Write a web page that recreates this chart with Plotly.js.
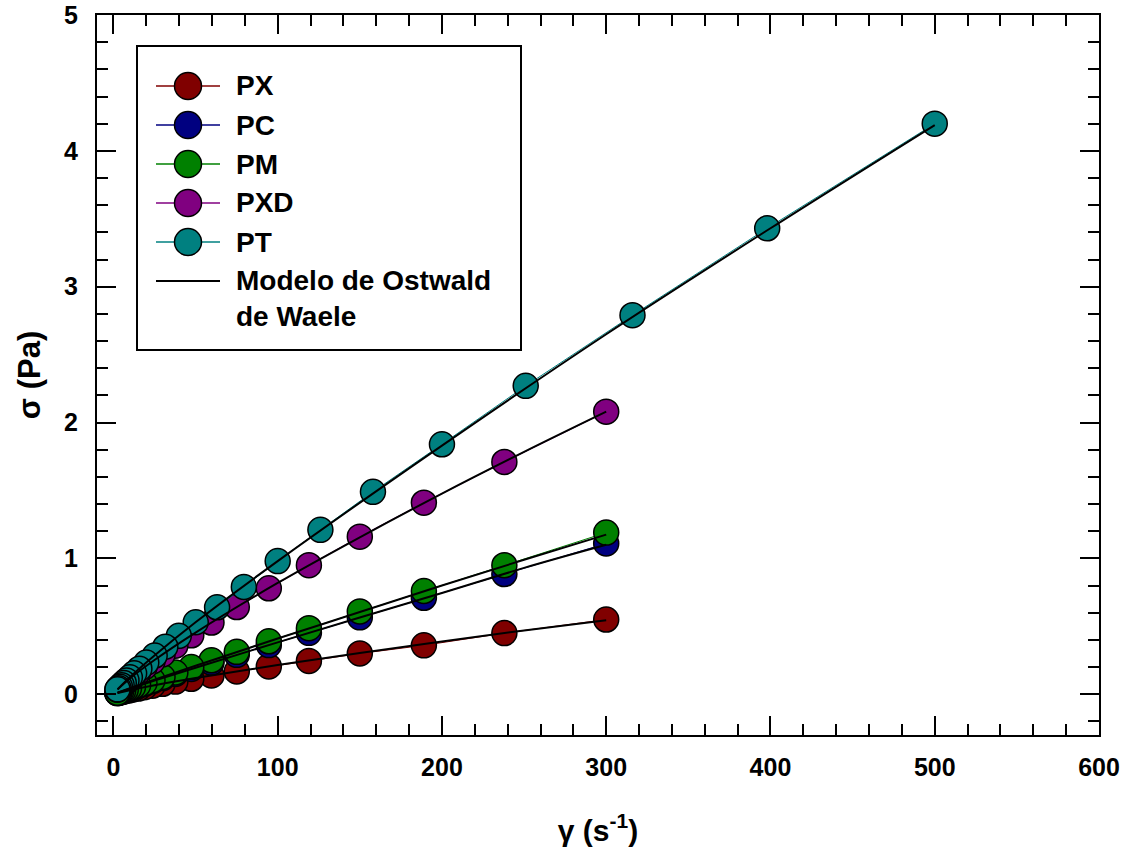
<!DOCTYPE html>
<html><head><meta charset="utf-8">
<script src="https://cdn.plot.ly/plotly-3.0.1.min.js"></script>
<style>html,body{margin:0;padding:0;background:#fff}</style>
</head><body>
<div id="chart" style="width:1129px;height:855px"></div>
<script>
// ---- data ----
const seriesNames  = ['PX', 'PC', 'PM', 'PXD', 'PT'];
const seriesColors = ['#800000', '#000080', '#008000', '#800080', '#008080'];

// shear rate (1/s) for PX, PC, PM, PXD
const shear300 = [300, 238, 189, 150, 119, 94.6, 75.1, 59.7, 47.4, 37.7, 29.9, 23.8, 18.9, 15.0, 11.9, 9.46, 7.51, 5.97, 4.74, 3.77, 2.99, 2.38];
// shear rate (1/s) for PT
const shearPT = [500, 398, 316, 251, 200, 158, 126, 100, 79.4, 63.1, 50.1, 39.8, 31.6, 25.1, 20.0, 15.8, 12.6, 10.0, 7.94, 6.31, 5.01, 3.98, 3.16, 2.51];

// shear stress (Pa)
const sigmaPX  = [0.55, 0.45, 0.36, 0.30, 0.245, 0.205, 0.168, 0.138, 0.114, 0.093, 0.077, 0.063, 0.052, 0.042, 0.035, 0.029, 0.024, 0.019, 0.016, 0.013, 0.010, 0.0085];
const sigmaPC  = [1.11, 0.885, 0.71, 0.566, 0.452, 0.362, 0.29, 0.233, 0.186, 0.149, 0.119, 0.096, 0.076, 0.061, 0.049, 0.039, 0.031, 0.025, 0.020, 0.016, 0.013, 0.010];
const sigmaPM  = [1.19, 0.95, 0.76, 0.61, 0.486, 0.39, 0.312, 0.25, 0.20, 0.16, 0.128, 0.103, 0.082, 0.066, 0.053, 0.042, 0.034, 0.027, 0.022, 0.017, 0.014, 0.011];
const sigmaPXD = [2.08, 1.71, 1.41, 1.16, 0.95, 0.78, 0.642, 0.528, 0.434, 0.357, 0.293, 0.242, 0.199, 0.163, 0.134, 0.110, 0.091, 0.075, 0.061, 0.050, 0.041, 0.034];
const sigmaPT  = [4.20, 3.43, 2.79, 2.27, 1.84, 1.49, 1.21, 0.98, 0.79, 0.64, 0.53, 0.43, 0.35, 0.285, 0.233, 0.188, 0.154, 0.125, 0.102, 0.083, 0.067, 0.055, 0.044, 0.036];

// Ostwald de Waele model curves
const modelShear300 = [2.5, 10, 25, 50, 100, 150, 200, 250, 300];
const modelShearPT  = [2.5, 10, 25, 50, 100, 200, 300, 400, 500];
const modelPX  = [0.0092, 0.030, 0.066, 0.119, 0.215, 0.304, 0.389, 0.470, 0.545];
const modelPC  = [0.011, 0.041, 0.100, 0.195, 0.382, 0.565, 0.745, 0.930, 1.10];
const modelPM  = [0.012, 0.044, 0.108, 0.210, 0.410, 0.605, 0.800, 0.990, 1.175];
const modelPXD = [0.035, 0.116, 0.252, 0.454, 0.819, 1.155, 1.477, 1.784, 2.08];
const modelPT  = [0.036, 0.125, 0.285, 0.530, 0.980, 1.830, 2.650, 3.430, 4.19];

const modelLabel = 'Modelo de Ostwald<br>de Waele';

// ---- build traces ----
const dataX = [shear300, shear300, shear300, shear300, shearPT];
const dataY = [sigmaPX, sigmaPC, sigmaPM, sigmaPXD, sigmaPT];
const modX  = [modelShear300, modelShear300, modelShear300, modelShear300, modelShearPT];
const modY  = [modelPX, modelPC, modelPM, modelPXD, modelPT];

const FONT = 'Liberation Sans, Arial, Helvetica, sans-serif';
const traces = [];
for (let i = 0; i < seriesNames.length; i++) {
  traces.push({
    type: 'scatter', mode: 'lines+markers', name: seriesNames[i],
    x: dataX[i], y: dataY[i],
    line: {color: seriesColors[i], width: 1},
    marker: {color: seriesColors[i], size: 25, line: {color: '#000', width: 1.5}}
  });
}
for (let i = 0; i < seriesNames.length; i++) {
  traces.push({
    type: 'scatter', mode: 'lines', name: 'Modelo de Ostwald de Waele',
    x: modX[i], y: modY[i], line: {color: '#000', width: 2, shape: 'spline'}
  });
}

// ---- legend box (drawn as layout shapes + annotations, in paper units) ----
const PLOT = {l: 97, t: 15, w: 1002, h: 720};
const px2x = p => (p - PLOT.l) / PLOT.w;
const py2y = p => (PLOT.t + PLOT.h - p) / PLOT.h;
const legendRows = [86, 125, 164, 203, 242, 281];
const shapes = [{
  type: 'rect', xref: 'paper', yref: 'paper', layer: 'above',
  x0: px2x(137), x1: px2x(521), y0: py2y(350), y1: py2y(46),
  line: {color: '#000', width: 2}, fillcolor: '#fff'
}];
const annotations = [];
for (let i = 0; i < legendRows.length; i++) {
  const isModel = i === seriesNames.length;
  const col = isModel ? '#000' : seriesColors[i];
  shapes.push({
    type: 'line', xref: 'paper', yref: 'paper', layer: 'above',
    x0: px2x(156), x1: px2x(220), y0: py2y(legendRows[i]), y1: py2y(legendRows[i]),
    line: {color: col, width: isModel ? 2 : 1.5}
  });
  if (!isModel) {
    shapes.push({
      type: 'circle', xref: 'paper', yref: 'paper', layer: 'above',
      xsizemode: 'pixel', ysizemode: 'pixel',
      xanchor: px2x(188), yanchor: py2y(legendRows[i]),
      x0: -13.5, x1: 13.5, y0: -13.5, y1: 13.5,
      fillcolor: col, line: {color: '#000', width: 1.5}
    });
  }
  annotations.push({
    xref: 'paper', yref: 'paper', showarrow: false,
    x: px2x(234), y: py2y(isModel ? legendRows[i] - 18 : legendRows[i]),
    xanchor: 'left', yanchor: isModel ? 'top' : 'middle', align: 'left',
    text: isModel ? modelLabel : seriesNames[i],
    font: {family: FONT, size: 28, weight: 'bold', color: '#000'}
  });
}

const axisCommon = {
  showgrid: false, zeroline: false, showline: true, linecolor: '#000', linewidth: 2,
  mirror: 'allticks', ticks: 'inside', ticklen: 19, tickwidth: 2, tickcolor: '#000',
  tickfont: {family: FONT, size: 25, weight: 'bold', color: '#000'}
};

const layout = {
  width: 1129, height: 855,
  margin: {l: 97, r: 30, t: 15, b: 120},
  paper_bgcolor: '#fff', plot_bgcolor: '#fff',
  showlegend: false,
  xaxis: Object.assign({}, axisCommon, {
    range: [-10, 600], tick0: 0, dtick: 100, ticklabelstandoff: 9,
    minor: {dtick: 20, ticks: 'inside', ticklen: 11, tickwidth: 2, tickcolor: '#000', showgrid: false},
    title: {text: 'γ (s<sup>-1</sup>)', font: {family: FONT, size: 30, weight: 'bold', color: '#000'}, standoff: 40}
  }),
  yaxis: Object.assign({}, axisCommon, {
    range: [-0.3, 5], tick0: 0, dtick: 1, ticklabelstandoff: 12,
    minor: {dtick: 0.2, ticks: 'inside', ticklen: 11, tickwidth: 2, tickcolor: '#000', showgrid: false},
    title: {text: 'σ (Pa)', font: {family: FONT, size: 31, weight: 'bold', color: '#000'}, standoff: 14}
  }),
  shapes: shapes,
  annotations: annotations
};

Plotly.newPlot('chart', traces, layout, {displayModeBar: false, staticPlot: true});
</script>
</body></html>
